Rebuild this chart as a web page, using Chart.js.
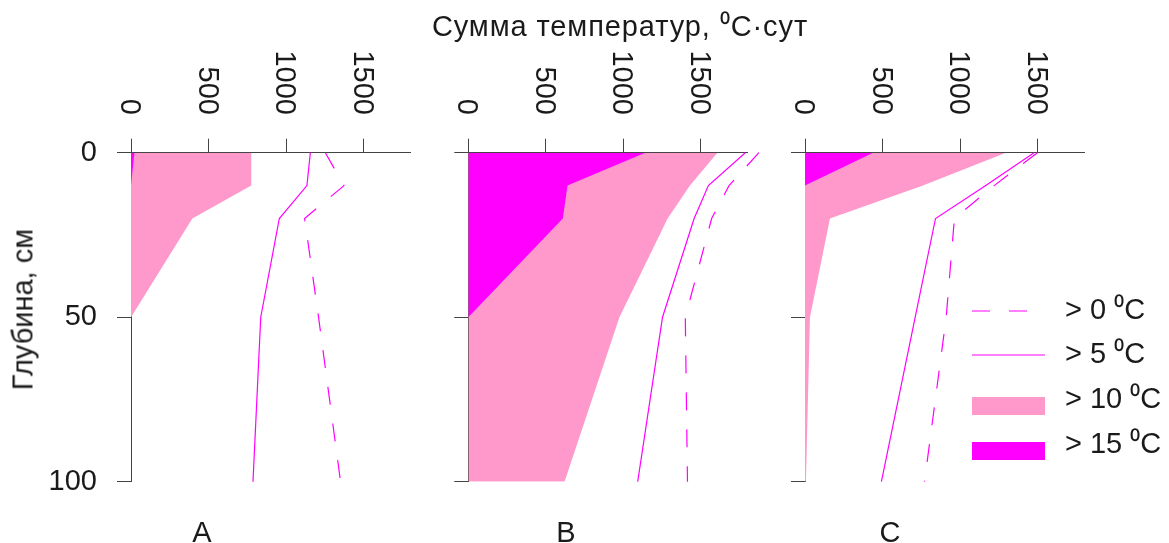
<!DOCTYPE html>
<html>
<head>
<meta charset="utf-8">
<script src="https://cdn.jsdelivr.net/npm/chart.js"></script>
<style>
  body { margin: 0; background: #fff; font-family: "Liberation Sans", Arial, sans-serif; color: #1a1a1a; }
  #wrap { position: relative; width: 1169px; height: 543px; overflow: hidden; }
  .layer { position: absolute; left: 0; top: 0; width: 1169px; height: 543px; }
  .txt { position: absolute; font-size: 29px; line-height: 29px; white-space: nowrap; }
  #title { left: 0; width: 1240px; top: 12px; text-align: center; letter-spacing: 0.9px; }
  #ytitle { left: -127px; top: 295px; width: 300px; text-align: center; transform: rotate(-90deg); }
  .plab { top: 518px; width: 60px; text-align: center; }
</style>
</head>
<body>
<div id="wrap">
  <div class="layer"><canvas id="cA"></canvas></div>
  <div class="layer"><canvas id="cB"></canvas></div>
  <div class="layer"><canvas id="cC"></canvas></div>
  <div id="title" class="txt">Сумма температур, ⁰С·сут</div>
  <div id="ytitle" class="txt">Глубина, см</div>
  <div class="txt plab" id="lA"></div>
  <div class="txt plab" id="lB"></div>
  <div class="txt plab" id="lC"></div>
</div>
<script>
// depth levels, cm
var depths = [0, 10, 20, 50, 100];
var xTickValues = [0, 500, 1000, 1500];
var yTickValues = [0, 50, 100];
var seriesNames = ['> 0 ⁰C', '> 5 ⁰C', '> 10 ⁰C', '> 15 ⁰C'];
var panelNames = ['А', 'В', 'С'];

// panel A
var above0A = [1254, 1374, 1120, 1210, 1352];
var above5A = [1157, 1135, 957, 837, 787];
var above10A = [776, 776, 396, 0, 0];
var above15A = [22, 0, 0, 0, 0];
// panel B
var above0B = [1875, 1682, 1570, 1400, 1414];
var above5B = [1787, 1549, 1457, 1253, 1093];
var above10B = [1607, 1430, 1286, 975, 621];
var above15B = [1142, 640, 610, 0, 0];
// panel C
var above0C = [1500, 1220, 964, 911, 771];
var above5C = [1478, 1166, 842, 711, 493];
var above10C = [1296, 761, 161, 32, 6];
var above15C = [440, 0, 0, 0, 0];

var magenta = '#ff00ff';
var pink = '#ff99cc';
var axisColor = '#444';
var font = '"Liberation Sans", Arial, sans-serif';

var plotTop = 152.7, plotBottom = 481.7, plotWidth = 279;
var panelLefts = [131, 468.3, 805];
var yAxisW = 120, xAxisH = 14;

function pts(vals) {
  return vals.map(function(v, i) { return { x: v, y: depths[i] }; });
}

function makeSets(t0, t5, t10, t15) {
  return [
    { label: seriesNames[0], data: pts(t0), borderColor: magenta, borderWidth: 1.2, borderDash: [18, 19], fill: false, order: 1 },
    { label: seriesNames[1], data: pts(t5), borderColor: magenta, borderWidth: 1.2, fill: false, order: 2 },
    { label: seriesNames[2], data: pts(t10), borderColor: 'rgba(0,0,0,0)', borderWidth: 0, backgroundColor: pink, fill: 'origin', order: 4 },
    { label: seriesNames[3], data: pts(t15), borderColor: 'rgba(0,0,0,0)', borderWidth: 0, backgroundColor: magenta, fill: 'origin', order: 3 }
  ];
}

// rotated labels above the top axis (reading top to bottom)
var xLabels = {
  id: 'xLabels',
  afterDraw: function(chart) {
    var xs = chart.scales.x, ctx = chart.ctx;
    ctx.save();
    ctx.font = '29px ' + font;
    ctx.fillStyle = '#1a1a1a';
    ctx.textAlign = 'right';
    ctx.textBaseline = 'alphabetic';
    xTickValues.forEach(function(v) {
      ctx.save();
      ctx.translate(xs.getPixelForValue(v), chart.chartArea.top - 14 - 23.7);
      ctx.rotate(Math.PI / 2);
      ctx.fillText(String(v), 0, 10);
      ctx.restore();
    });
    ctx.restore();
  }
};

// legend drawn inside panel C
var legendBox = {
  id: 'legendBox',
  afterDraw: function(chart) {
    var ctx = chart.ctx;
    var rows = [311, 355, 400, 445];
    var sx = 972, sw = 73, tx = 1065;
    ctx.save();
    chart.data.datasets.forEach(function(ds, i) {
      var y = rows[i];
      if (ds.fill) {
        ctx.fillStyle = ds.backgroundColor;
        ctx.fillRect(sx, y + 6 - 9, sw, 18);
      } else {
        ctx.strokeStyle = ds.borderColor;
        ctx.lineWidth = 1.2;
        ctx.setLineDash(ds.borderDash || []);
        ctx.beginPath();
        ctx.moveTo(sx, y);
        ctx.lineTo(sx + sw, y);
        ctx.stroke();
        ctx.setLineDash([]);
      }
      ctx.font = '29px ' + font;
      ctx.fillStyle = '#1a1a1a';
      ctx.textAlign = 'left';
      ctx.textBaseline = 'middle';
      ctx.fillText(ds.label, tx, y);
    });
    ctx.restore();
  }
};

function makeChart(id, idx, sets, showYLabels, extra) {
  var left = panelLefts[idx];
  return new Chart(document.getElementById(id), {
    type: 'line',
    data: { datasets: sets },
    options: {
      indexAxis: 'y',
      responsive: true,
      maintainAspectRatio: false,
      animation: false,
      clip: false,
      layout: { padding: { left: left - yAxisW, right: 1169 - left - plotWidth, top: plotTop - xAxisH, bottom: 543 - plotBottom } },
      elements: { point: { radius: 0 }, line: { tension: 0 } },
      plugins: { legend: { display: false }, tooltip: { enabled: false } },
      scales: {
        x: {
          type: 'linear', position: 'top', min: 0, max: 1800,
          afterBuildTicks: function(s) { s.ticks = xTickValues.map(function(v) { return { value: v }; }); },
          afterFit: function(s) { s.height = xAxisH; },
          ticks: { display: false },
          grid: { drawOnChartArea: false, drawTicks: true, tickLength: 14, color: axisColor },
          border: { color: axisColor, width: 1 }
        },
        y: {
          type: 'linear', position: 'left', min: 0, max: 100, reverse: true,
          afterBuildTicks: function(s) { s.ticks = yTickValues.map(function(v) { return { value: v }; }); },
          afterFit: function(s) { s.width = yAxisW; },
          ticks: { display: showYLabels, padding: 20, color: '#1a1a1a', font: { size: 29, family: font } },
          grid: { drawOnChartArea: false, drawTicks: true, tickLength: 14, color: axisColor },
          border: { color: axisColor, width: 1 }
        }
      }
    },
    plugins: [xLabels].concat(extra || [])
  });
}

makeChart('cA', 0, makeSets(above0A, above5A, above10A, above15A), true);
makeChart('cB', 1, makeSets(above0B, above5B, above10B, above15B), false);
makeChart('cC', 2, makeSets(above0C, above5C, above10C, above15C), false, [legendBox]);

var labelCenters = [202, 566, 890];
['lA', 'lB', 'lC'].forEach(function(id, i) {
  var el = document.getElementById(id);
  el.textContent = panelNames[i];
  el.style.left = (labelCenters[i] - 30) + 'px';
});
</script>
</body>
</html>
